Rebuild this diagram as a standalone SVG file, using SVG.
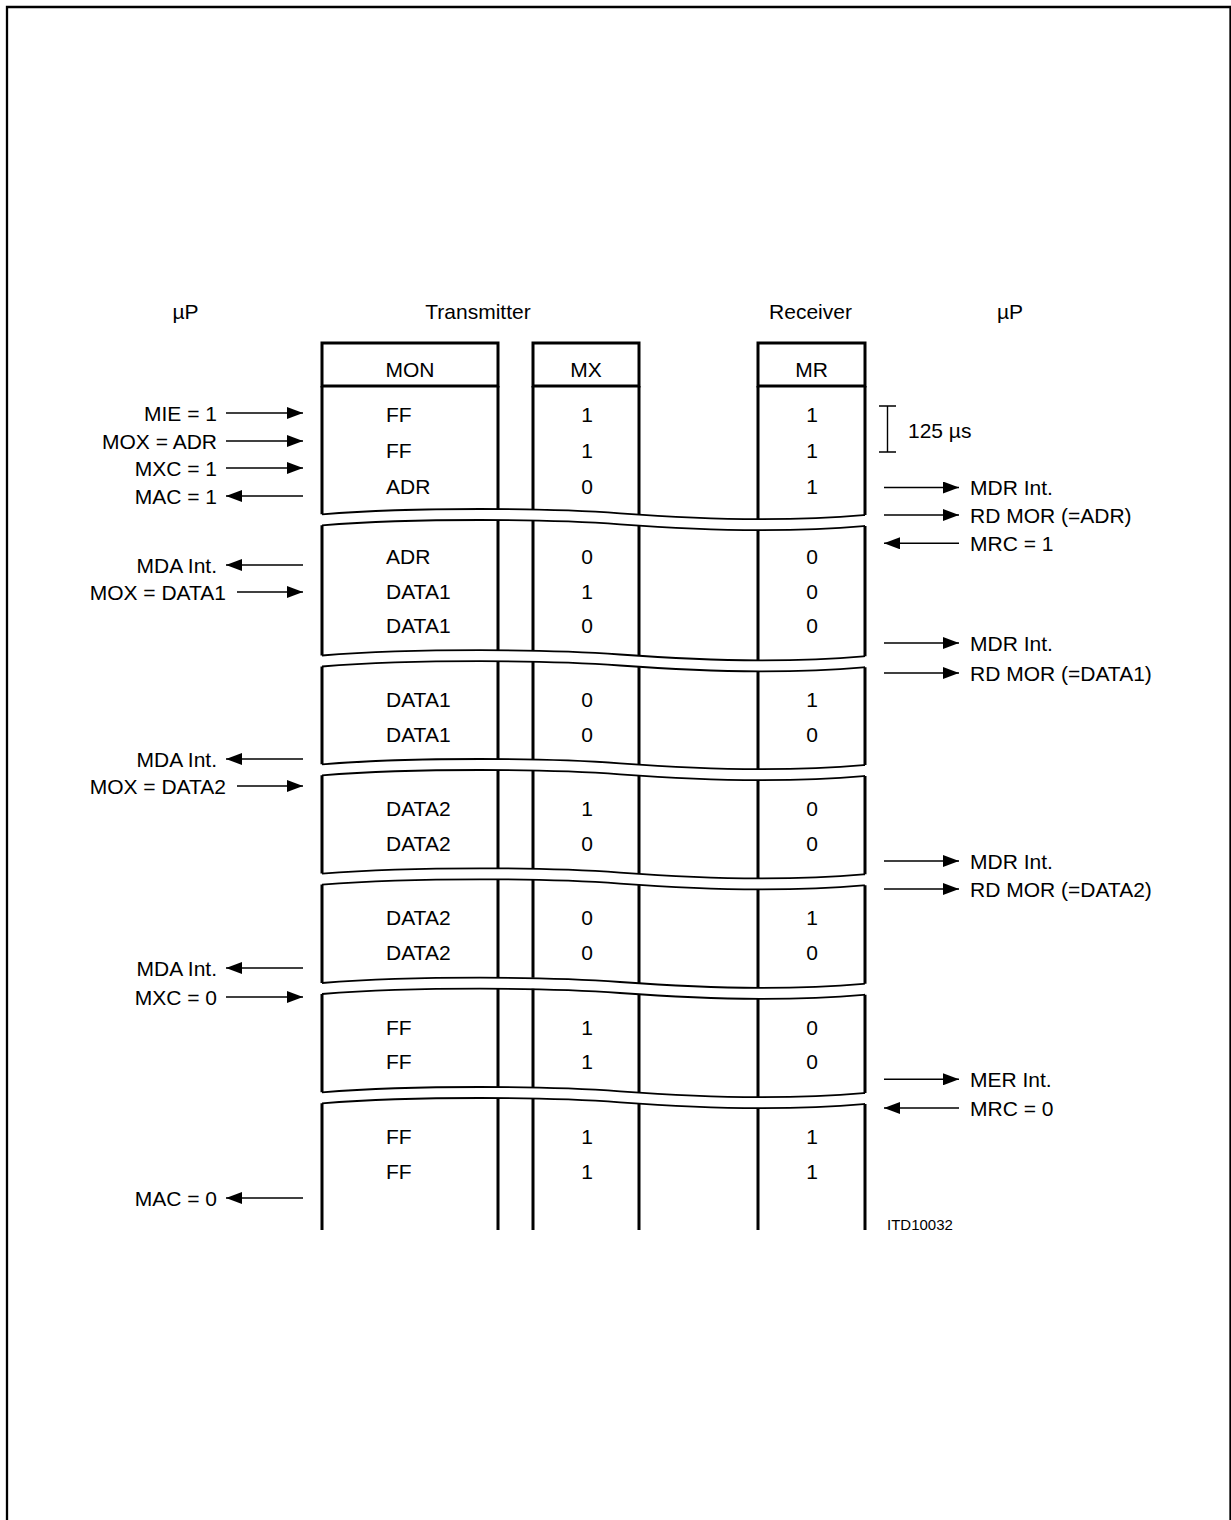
<svg xmlns="http://www.w3.org/2000/svg" xmlns:xlink="http://www.w3.org/1999/xlink" width="1231" height="1520" viewBox="0 0 1231 1520">
<style>
text{font-family:"Liberation Sans",Arial,sans-serif;font-size:21px;fill:#000}
.m{text-anchor:middle}
.e{text-anchor:end}
.col{fill:none;stroke:#000;stroke-width:3}
.wv{fill:none;stroke:#000;stroke-width:1.8}
.ar{fill:none;stroke:#000;stroke-width:1.5;marker-end:url(#ah)}
</style>
<defs>
<marker id="ah" markerUnits="userSpaceOnUse" markerWidth="16" markerHeight="12" refX="16" refY="6" orient="auto">
<path d="M0,0 L16,6 L0,12 z" fill="#000"/>
</marker>
<path id="w" d="M322,0 C360,-3 420,-5.3 480,-5.3 C540,-5.3 580,-4 620,-1 C660,2 700,4.8 760,4.8 C820,4.8 850,2 865,0.7"/>
</defs>
<rect width="1231" height="1520" fill="#fff"/>
<path d="M7,1520 V7 H1230.5 V1520" fill="none" stroke="#000" stroke-width="2.3"/>

<g id="titles">
<text class="m" x="185.5" y="319">µP</text>
<text class="m" x="478" y="319">Transmitter</text>
<text class="m" x="810.5" y="319">Receiver</text>
<text class="m" x="1010" y="319">µP</text>
</g>

<g id="headers">
<rect class="col" x="322" y="343" width="176" height="43"/>
<rect class="col" x="533" y="343" width="106" height="43"/>
<rect class="col" x="758" y="343" width="107" height="43"/>
<text class="m" x="410" y="377">MON</text>
<text class="m" x="586" y="377">MX</text>
<text class="m" x="811.5" y="377">MR</text>
</g>

<g id="columns">
<path class="col" d="M322,386V514.3 M498,386V509 M533,386V509.1 M639,386V514.6 M758,386V519 M865,386V515"/>
<path class="col" d="M322,525.3V655.5 M498,520V650.2 M533,520.1V650.3 M639,525.6V655.8 M758,530V660.2 M865,526V656.2"/>
<path class="col" d="M322,666.5V764.3 M498,661.2V759 M533,661.3V759.1 M639,666.8V764.6 M758,671.2V769 M865,667.2V765"/>
<path class="col" d="M322,775.3V873.6 M498,770V868.3 M533,770.1V868.4 M639,775.6V873.9 M758,780V878.3 M865,776V874.3"/>
<path class="col" d="M322,884.6V983 M498,879.3V977.7 M533,879.4V977.8 M639,884.9V983.3 M758,889.3V987.7 M865,885.3V983.7"/>
<path class="col" d="M322,994V1092.3 M498,988.7V1087 M533,988.8V1087.1 M639,994.3V1092.6 M758,998.7V1097 M865,994.7V1093"/>
<path class="col" d="M322,1103.3V1230 M498,1098V1230 M533,1098.1V1230 M639,1103.6V1230 M758,1108V1230 M865,1104V1230"/>
</g>

<g id="breaks" class="wv">
<use xlink:href="#w" href="#w" y="514.3"/>
<use xlink:href="#w" href="#w" y="525.3"/>
<use xlink:href="#w" href="#w" y="655.5"/>
<use xlink:href="#w" href="#w" y="666.5"/>
<use xlink:href="#w" href="#w" y="764.3"/>
<use xlink:href="#w" href="#w" y="775.3"/>
<use xlink:href="#w" href="#w" y="873.6"/>
<use xlink:href="#w" href="#w" y="884.6"/>
<use xlink:href="#w" href="#w" y="983"/>
<use xlink:href="#w" href="#w" y="994"/>
<use xlink:href="#w" href="#w" y="1092.3"/>
<use xlink:href="#w" href="#w" y="1103.3"/>
</g>

<g id="mon-values">
<text x="386" y="421.5">FF</text>
<text x="386" y="458">FF</text>
<text x="386" y="494">ADR</text>
<text x="386" y="564">ADR</text>
<text x="386" y="598.5">DATA1</text>
<text x="386" y="633">DATA1</text>
<text x="386" y="706.7">DATA1</text>
<text x="386" y="741.5">DATA1</text>
<text x="386" y="816">DATA2</text>
<text x="386" y="850.7">DATA2</text>
<text x="386" y="925.3">DATA2</text>
<text x="386" y="960">DATA2</text>
<text x="386" y="1034.6">FF</text>
<text x="386" y="1069.3">FF</text>
<text x="386" y="1144">FF</text>
<text x="386" y="1179">FF</text>
</g>

<g id="mx-values">
<text class="m" x="587" y="421.5">1</text>
<text class="m" x="587" y="458">1</text>
<text class="m" x="587" y="494">0</text>
<text class="m" x="587" y="564">0</text>
<text class="m" x="587" y="598.5">1</text>
<text class="m" x="587" y="633">0</text>
<text class="m" x="587" y="706.7">0</text>
<text class="m" x="587" y="741.5">0</text>
<text class="m" x="587" y="816">1</text>
<text class="m" x="587" y="850.7">0</text>
<text class="m" x="587" y="925.3">0</text>
<text class="m" x="587" y="960">0</text>
<text class="m" x="587" y="1034.6">1</text>
<text class="m" x="587" y="1069.3">1</text>
<text class="m" x="587" y="1144">1</text>
<text class="m" x="587" y="1179">1</text>
</g>

<g id="mr-values">
<text class="m" x="812" y="421.5">1</text>
<text class="m" x="812" y="458">1</text>
<text class="m" x="812" y="494">1</text>
<text class="m" x="812" y="564">0</text>
<text class="m" x="812" y="598.5">0</text>
<text class="m" x="812" y="633">0</text>
<text class="m" x="812" y="706.7">1</text>
<text class="m" x="812" y="741.5">0</text>
<text class="m" x="812" y="816">0</text>
<text class="m" x="812" y="850.7">0</text>
<text class="m" x="812" y="925.3">1</text>
<text class="m" x="812" y="960">0</text>
<text class="m" x="812" y="1034.6">0</text>
<text class="m" x="812" y="1069.3">0</text>
<text class="m" x="812" y="1144">1</text>
<text class="m" x="812" y="1179">1</text>
</g>

<g id="timing">
<path d="M887.5,406V452 M879,406H896 M879,452H896" fill="none" stroke="#000" stroke-width="1.4"/>
<text x="908" y="438">125 µs</text>
</g>

<g id="connectors">
<line class="ar" x1="226" y1="413" x2="303" y2="413"/>
<line class="ar" x1="226" y1="441" x2="303" y2="441"/>
<line class="ar" x1="226" y1="468" x2="303" y2="468"/>
<line class="ar" x1="303" y1="496" x2="226" y2="496"/>
<line class="ar" x1="303" y1="565" x2="226" y2="565"/>
<line class="ar" x1="237" y1="592" x2="303" y2="592"/>
<line class="ar" x1="303" y1="759" x2="226" y2="759"/>
<line class="ar" x1="237" y1="786" x2="303" y2="786"/>
<line class="ar" x1="303" y1="968" x2="226" y2="968"/>
<line class="ar" x1="226" y1="997" x2="303" y2="997"/>
<line class="ar" x1="303" y1="1198" x2="226" y2="1198"/>

<line class="ar" x1="884" y1="487.5" x2="959" y2="487.5"/>
<line class="ar" x1="884" y1="515" x2="959" y2="515"/>
<line class="ar" x1="959" y1="543.3" x2="884" y2="543.3"/>
<line class="ar" x1="884" y1="643" x2="959" y2="643"/>
<line class="ar" x1="884" y1="673" x2="959" y2="673"/>
<line class="ar" x1="884" y1="861" x2="959" y2="861"/>
<line class="ar" x1="884" y1="889" x2="959" y2="889"/>
<line class="ar" x1="884" y1="1079.3" x2="959" y2="1079.3"/>
<line class="ar" x1="959" y1="1108" x2="884" y2="1108"/>
</g>

<g id="left-labels">
<text class="e" x="217" y="420.5">MIE = 1</text>
<text class="e" x="217" y="448.5">MOX = ADR</text>
<text class="e" x="217" y="475.5">MXC = 1</text>
<text class="e" x="217" y="503.5">MAC = 1</text>
<text class="e" x="217" y="572.5">MDA Int.</text>
<text class="e" x="226" y="599.5">MOX = DATA1</text>
<text class="e" x="217" y="766.5">MDA Int.</text>
<text class="e" x="226" y="793.5">MOX = DATA2</text>
<text class="e" x="217" y="975.5">MDA Int.</text>
<text class="e" x="217" y="1004.5">MXC = 0</text>
<text class="e" x="217" y="1205.5">MAC = 0</text>
</g>

<g id="right-labels">
<text x="970" y="495">MDR Int.</text>
<text x="970" y="522.5">RD MOR (=ADR)</text>
<text x="970" y="550.8">MRC = 1</text>
<text x="970" y="650.5">MDR Int.</text>
<text x="970" y="680.5">RD MOR (=DATA1)</text>
<text x="970" y="868.5">MDR Int.</text>
<text x="970" y="896.5">RD MOR (=DATA2)</text>
<text x="970" y="1086.8">MER Int.</text>
<text x="970" y="1115.5">MRC = 0</text>
</g>

<text x="887" y="1230" style="font-size:15px">ITD10032</text>
</svg>
